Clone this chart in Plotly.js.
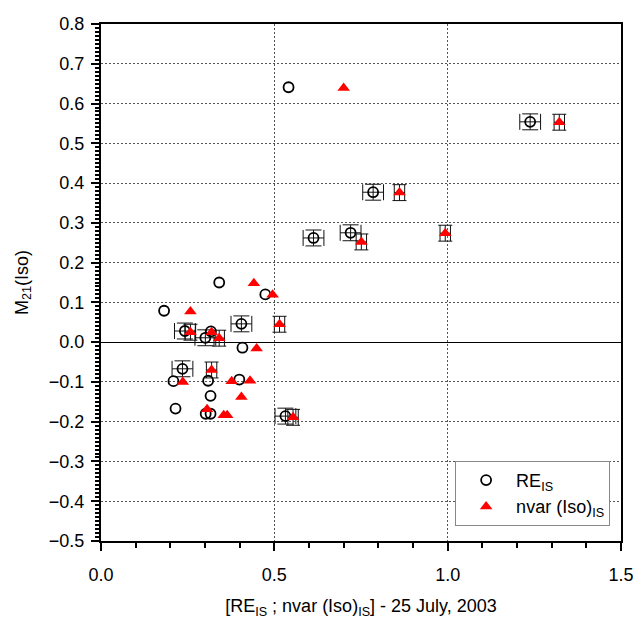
<!DOCTYPE html>
<html>
<head>
<meta charset="utf-8">
<script src="https://cdn.plot.ly/plotly-3.0.1.min.js"></script>
<style>
  html, body { margin: 0; padding: 0; background: #fff; }
  #chart { width: 638px; height: 619px; }
</style>
</head>
<body>
<div id="chart"></div>
<script>
// RE_IS series: position and symmetric errors (0 = no error bar)
const reX    = [0.541, 0.182, 0.341, 0.474, 0.242, 0.301, 0.317, 0.405, 0.408, 0.235, 0.209,
                0.309, 0.399, 0.316, 0.215, 0.302, 0.316, 0.532, 0.613, 0.720, 0.785, 1.238];
const reY    = [0.641, 0.079, 0.150, 0.120, 0.028, 0.011, 0.027, 0.046, -0.014, -0.067, -0.098,
                -0.097, -0.094, -0.135, -0.167, -0.180, -0.180, -0.186, 0.262, 0.275, 0.377, 0.554];
const reErrX = [0, 0, 0, 0, 0.03, 0.03, 0, 0.03, 0, 0.03, 0,
                0, 0, 0, 0, 0, 0, 0.03, 0.03, 0.03, 0.03, 0.03];
const reErrY = [0, 0, 0, 0, 0.02, 0.02, 0, 0.02, 0, 0.02, 0,
                0, 0, 0, 0, 0, 0, 0.02, 0.02, 0.02, 0.02, 0.02];

// nvar (Iso)_IS series
const nvX    = [0.700, 0.441, 0.495, 0.258, 0.258, 0.319, 0.341, 0.515, 0.449, 0.319, 0.236,
                0.377, 0.430, 0.405, 0.306, 0.354, 0.364, 0.554, 0.751, 0.861, 0.993, 1.322];
const nvY    = [0.639, 0.148, 0.119, 0.077, 0.025, 0.025, 0.010, 0.045, -0.016, -0.070, -0.100,
                -0.098, -0.097, -0.138, -0.169, -0.184, -0.184, -0.189, 0.252, 0.376, 0.274, 0.553];
const nvErrX = [0, 0, 0, 0, 0.015, 0, 0.015, 0.015, 0, 0.015, 0,
                0, 0, 0, 0, 0, 0, 0.015, 0.015, 0.015, 0.015, 0.015];
const nvErrY = [0, 0, 0, 0, 0.02, 0, 0.02, 0.02, 0, 0.02, 0,
                0, 0, 0, 0, 0, 0, 0.02, 0.02, 0.02, 0.02, 0.02];

const seriesNames = ['RE<sub>IS</sub>', 'nvar (Iso)<sub>IS</sub>'];

const FONT = 'Liberation Sans, Arial, sans-serif';

// split a series into points with and without error bars
function split(xs, ys, ex, ey) {
  const plain = {x: [], y: []}, err = {x: [], y: [], ex: [], ey: []};
  xs.forEach((x, i) => {
    if (ex[i] > 0 || ey[i] > 0) {
      err.x.push(x); err.y.push(ys[i]); err.ex.push(ex[i]); err.ey.push(ey[i]);
    } else {
      plain.x.push(x); plain.y.push(ys[i]);
    }
  });
  return {plain, err};
}

const circleMarker = {symbol: 'circle-open', size: 10, color: '#000', line: {width: 1.8, color: '#000'}};
const triMarker = {symbol: 'triangle-up', size: 11, color: '#ff0000', line: {width: 0}};

const re = split(reX, reY, reErrX, reErrY);
const nv = split(nvX, nvY, nvErrX, nvErrY);

const errStyle = (arr, w) => ({type: 'data', array: arr, visible: true, color: '#111', thickness: 1, width: w});

const traces = [
  {x: re.err.x, y: re.err.y, type: 'scatter', mode: 'markers', marker: circleMarker,
   error_x: errStyle(re.err.ex, 8), error_y: errStyle(re.err.ey, 8),
   showlegend: false, hoverinfo: 'x+y'},
  {x: re.plain.x, y: re.plain.y, type: 'scatter', mode: 'markers', marker: circleMarker,
   name: seriesNames[0], legendrank: 1},
  {x: nv.err.x, y: nv.err.y, type: 'scatter', mode: 'markers', marker: triMarker,
   error_x: errStyle(nv.err.ex, 8), error_y: errStyle(nv.err.ey, 7),
   showlegend: false, hoverinfo: 'x+y'},
  {x: nv.plain.x, y: nv.plain.y, type: 'scatter', mode: 'markers', marker: triMarker,
   name: seriesNames[1], legendrank: 2}
];

const layout = {
  width: 638, height: 619,
  margin: {l: 101, r: 17, t: 24, b: 78},
  paper_bgcolor: '#fff', plot_bgcolor: '#fff',
  font: {family: FONT, size: 18, color: '#000'},
  showlegend: true,
  legend: {
    x: 0.681, y: 0.155, xanchor: 'left', yanchor: 'top',
    bgcolor: '#fff', bordercolor: '#888', borderwidth: 1,
    font: {family: FONT, size: 18, color: '#000'},
    itemwidth: 50, tracegroupgap: 0
  },
  xaxis: {
    range: [0, 1.5], dtick: 0.5, tick0: 0, tickformat: '.1f',
    ticks: 'outside', ticklen: 8, tickwidth: 1.5, tickcolor: '#000',
    minor: {dtick: 0.1, ticks: 'outside', ticklen: 5, tickcolor: '#000', showgrid: false},
    showline: true, linecolor: '#000', linewidth: 2, mirror: true,
    showgrid: true, gridcolor: '#555', griddash: '2px,2px', gridwidth: 1,
    zeroline: false,
    ticklabelstandoff: 8,
    tickfont: {family: FONT, size: 18},
    title: {text: '[RE<sub>IS</sub> ; nvar (Iso)<sub>IS</sub>] - 25 July, 2003', font: {family: FONT, size: 18}, standoff: 16}
  },
  yaxis: {
    range: [-0.5, 0.8], dtick: 0.1, tick0: 0, tickformat: '.1f',
    ticks: 'outside', ticklen: 8, tickwidth: 1.5, tickcolor: '#000',
    minor: {dtick: 0.01, ticks: 'outside', ticklen: 4, tickcolor: '#000', showgrid: false},
    showline: true, linecolor: '#000', linewidth: 2, mirror: true,
    showgrid: true, gridcolor: '#555', griddash: '2px,2px', gridwidth: 1,
    zeroline: true, zerolinecolor: '#000', zerolinewidth: 1,
    ticklabelstandoff: 3,
    tickfont: {family: FONT, size: 18},
    title: {text: 'M<sub>21</sub>(Iso)', font: {family: FONT, size: 18}, standoff: 16}
  }
};

Plotly.newPlot('chart', traces, layout, {displayModeBar: false, responsive: false});
</script>
</body>
</html>
